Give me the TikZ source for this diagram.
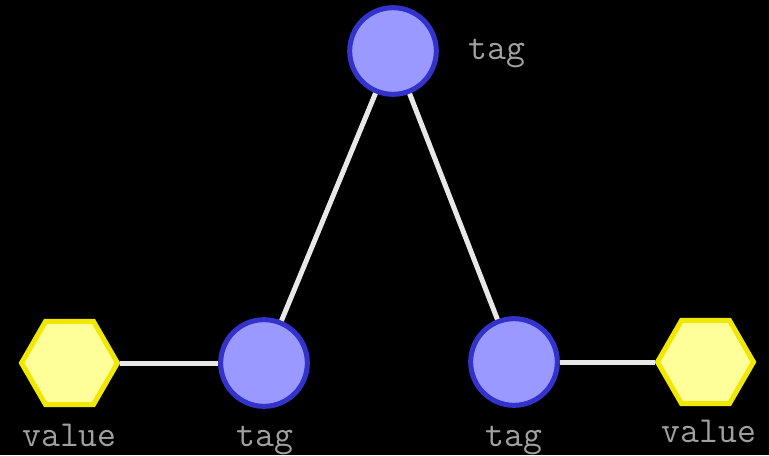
\documentclass[tikz,border=0pt]{standalone}
\usetikzlibrary{shapes.geometric}
\usetikzlibrary{positioning}

\definecolor{tagfill}{RGB}{153,153,255}
\definecolor{tagline}{RGB}{51,51,204}
\definecolor{valfill}{RGB}{255,255,153}
\definecolor{valline}{RGB}{240,232,0}
\definecolor{edgegray}{RGB}{232,232,232}
\definecolor{textgray}{RGB}{160,160,160}

\tikzset{
  tagnode/.style={circle, fill=tagfill, draw=tagline, line width=3.75pt, minimum size=65pt, inner sep=0pt},
  valnode/.style={regular polygon, regular polygon sides=6, fill=valfill, draw=valline, line width=3.75pt, minimum size=72pt, inner sep=0pt},
  link/.style={draw=edgegray, line width=3.75pt},
  caption/.style={text=textgray, font=\ttfamily\fontsize{27.5}{27.5}\selectfont, anchor=base, inner sep=0pt}
}

\begin{document}
\begin{tikzpicture}[x=0.75pt,y=0.75pt,yscale=-1,xscale=1]
\fill[black] (0,0) rectangle (769,455);
\useasboundingbox (0,0) rectangle (769,455);

% tag nodes
\node[tagnode] (top) at (393,51) {};
\node[tagnode] (left) at (264,363) {};
\node[tagnode] (right) at (514,362) {};
% value nodes
\node[valnode] (lval) at (69.5,363) {};
\node[valnode] (rval) at (705.5,362) {};

% links
\draw[link] (top) -- (left);
\draw[link] (top) -- (right);
\draw[link] (lval) -- (left);
\draw[link] (right) -- (rval);

% Text Node
\node[caption] (toplabel) at (497,59) {tag};
% Text Node
\node[caption] (leftlabel) at (265,446) {tag};
% Text Node
\node[caption] (rightlabel) at (514,446) {tag};
% Text Node
\node[caption] (lvallabel) at (69.5,446) {value};
% Text Node
\node[caption] (rvallabel) at (709,442) {value};

\end{tikzpicture}
\end{document}
